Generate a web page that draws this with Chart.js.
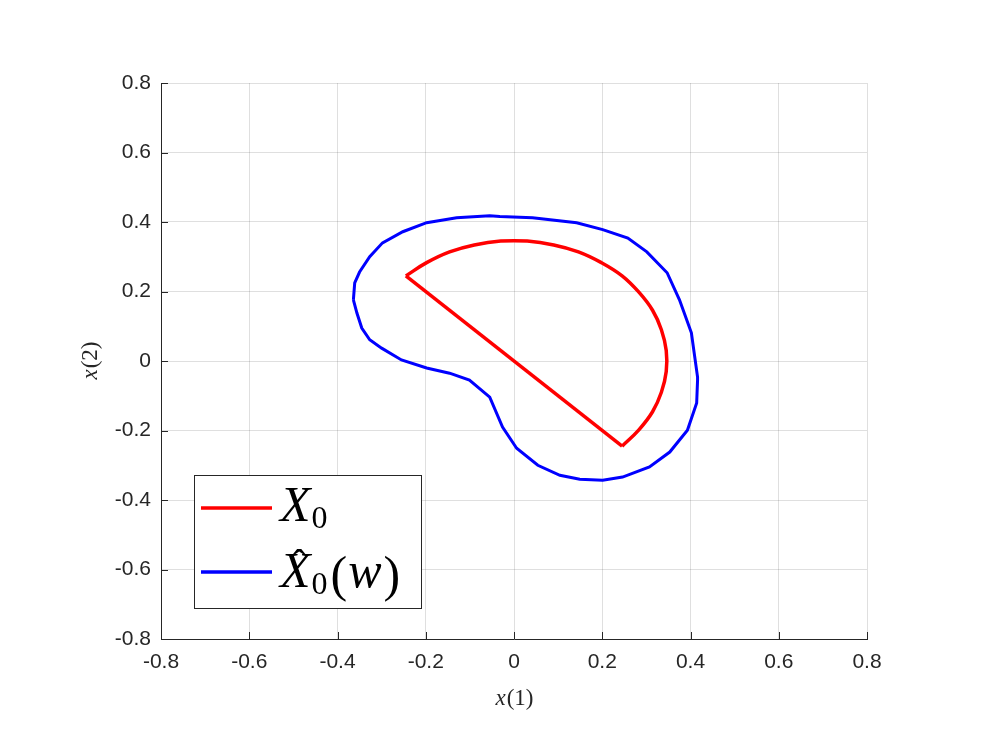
<!DOCTYPE html>
<html>
<head>
<meta charset="utf-8">
<script src="https://cdn.jsdelivr.net/npm/chart.js@4"></script>
<style>
  html, body { margin: 0; padding: 0; background: #fff; }
</style>
</head>
<body>
<canvas id="chart" width="997" height="747"></canvas>
<script>
// axis ticks (same on both axes)
const tickValues = [-0.8, -0.6, -0.4, -0.2, 0, 0.2, 0.4, 0.6, 0.8];
const tickLabels = ["-0.8", "-0.6", "-0.4", "-0.2", "0", "0.2", "0.4", "0.6", "0.8"];

// X_0 : half disc, arc part
const arcX = [-0.245, -0.198, -0.146, -0.090, -0.030, 0.030, 0.090, 0.146, 0.198, 0.245,
  0.283, 0.314, 0.334, 0.345, 0.345, 0.334, 0.314, 0.283, 0.245];
const arcY = [0.245, 0.283, 0.314, 0.334, 0.345, 0.345, 0.334, 0.314, 0.283, 0.245,
  0.198, 0.146, 0.090, 0.030, -0.030, -0.090, -0.146, -0.198, -0.245];
// X_0 : straight diameter
const diamX = [0.245, -0.245];
const diamY = [-0.245, 0.245];

// X_0 hat (w) : outer polygon
const hatX = [-0.364, -0.361, -0.350, -0.327, -0.298, -0.252, -0.198, -0.130, -0.055, -0.032,
  0.042, 0.142, 0.201, 0.258, 0.301, 0.347, 0.375, 0.402, 0.416, 0.416,
  0.414, 0.393, 0.353, 0.307, 0.246, 0.201, 0.149, 0.104, 0.054, 0.006,
  -0.026, -0.055, -0.101, -0.146, -0.198, -0.255, -0.300, -0.327, -0.345, -0.356, -0.364];
const hatY = [0.176, 0.225, 0.256, 0.300, 0.340, 0.372, 0.398, 0.412, 0.418, 0.416,
  0.412, 0.398, 0.378, 0.354, 0.314, 0.254, 0.176, 0.081, -0.046, -0.055,
  -0.121, -0.199, -0.262, -0.305, -0.334, -0.343, -0.340, -0.329, -0.300, -0.251,
  -0.190, -0.104, -0.055, -0.035, -0.020, 0.003, 0.037, 0.061, 0.095, 0.138, 0.176];

const toPts = (xs, ys) => xs.map((x, i) => ({ x: x, y: ys[i] }));

const axisColor = "#262626";
const serif = "'Liberation Serif', 'DejaVu Serif', serif";

// draws inward ticks, axis labels and the legend box
const extras = {
  id: "extras",
  afterDraw(chart) {
    const ctx = chart.ctx;
    const xs = chart.scales.x, ys = chart.scales.y;
    const area = chart.chartArea;
    ctx.save();
    ctx.strokeStyle = axisColor;
    ctx.lineWidth = 1;
    tickValues.forEach((v) => {
      const px = Math.round(xs.getPixelForValue(v)) + 0.5;
      const py = Math.round(ys.getPixelForValue(v)) + 0.5;
      ctx.beginPath();
      ctx.moveTo(px, area.bottom);
      ctx.lineTo(px, area.bottom - 7);
      ctx.moveTo(area.left, py);
      ctx.lineTo(area.left + 7, py);
      ctx.stroke();
    });

    // axis labels x(1), x(2)
    ctx.fillStyle = axisColor;
    ctx.textBaseline = "alphabetic";
    const drawLabel = (cx, cy, num) => {
      ctx.font = "italic 23px " + serif;
      const w1 = ctx.measureText("x").width;
      ctx.font = "23px " + serif;
      const w2 = ctx.measureText("(" + num + ")").width;
      let x = cx - (w1 + w2) / 2;
      ctx.font = "italic 23px " + serif;
      ctx.fillText("x", x, cy);
      ctx.font = "23px " + serif;
      ctx.fillText("(" + num + ")", x + w1 + 1, cy);
    };
    drawLabel((area.left + area.right) / 2, 705, "1");
    ctx.save();
    ctx.translate(97, (area.top + area.bottom) / 2);
    ctx.rotate(-Math.PI / 2);
    drawLabel(0, 0, "2");
    ctx.restore();

    // legend
    const lx = 194, ly = 475, lw = 227, lh = 133;
    ctx.fillStyle = "#fff";
    ctx.fillRect(lx, ly, lw, lh);
    ctx.strokeStyle = axisColor;
    ctx.strokeRect(lx + 0.5, ly + 0.5, lw, lh);
    const rows = [
      { color: "#ff0000", y: 508, base: 521, hat: false },
      { color: "#0000ff", y: 572, base: 587, hat: true }
    ];
    rows.forEach((r) => {
      ctx.strokeStyle = r.color;
      ctx.lineWidth = 3.5;
      ctx.beginPath();
      ctx.moveTo(201, r.y);
      ctx.lineTo(272, r.y);
      ctx.stroke();
      ctx.fillStyle = "#000";
      let x = 280;
      ctx.font = "italic 50px " + serif;
      ctx.fillText("X", x, r.base);
      const wX = ctx.measureText("X").width;
      if (r.hat) {
        ctx.font = "40px " + serif;
        ctx.textAlign = "center";
        ctx.fillText("\u02C6", x + wX / 2 + 4, r.base - 10);
        ctx.textAlign = "left";
      }
      x += wX + 1;
      ctx.font = "32px " + serif;
      ctx.fillText("0", x, r.base + 7);
      x += ctx.measureText("0").width + 3;
      if (r.hat) {
        ctx.font = "50px " + serif;
        ctx.fillText("(", x, r.base + 4);
        x += ctx.measureText("(").width + 1;
        ctx.font = "italic 50px " + serif;
        ctx.fillText("w", x, r.base);
        x += ctx.measureText("w").width + 2;
        ctx.font = "50px " + serif;
        ctx.fillText(")", x, r.base + 4);
      }
    });
    ctx.restore();
  }
};

const axisOptions = (pad) => ({
  type: "linear",
  min: -0.8,
  max: 0.8,
  afterBuildTicks: (scale) => {
    scale.ticks = tickValues.map((v) => ({ value: v }));
  },
  ticks: {
    padding: pad,
    color: axisColor,
    font: { family: "'Liberation Sans', Arial, sans-serif", size: 21 },
    callback: (value, index) => tickLabels[index]
  },
  grid: {
    color: "rgba(38,38,38,0.15)",
    drawTicks: false
  },
  border: { display: true, color: axisColor, width: 1 }
});

const xAxis = axisOptions(11);
xAxis.afterFit = (scale) => { scale.height = 108; };
const yAxis = axisOptions(10);
yAxis.afterFit = (scale) => { scale.width = 161; };

new Chart(document.getElementById("chart"), {
  type: "scatter",
  data: {
    datasets: [
      {
        label: "X0",
        data: toPts(arcX, arcY),
        showLine: true,
        borderColor: "#ff0000",
        borderWidth: 3.5,
        pointRadius: 0,
        tension: 0.4
      },
      {
        label: "X0 diameter",
        data: toPts(diamX, diamY),
        showLine: true,
        borderColor: "#ff0000",
        borderWidth: 3.5,
        pointRadius: 0,
        tension: 0
      },
      {
        label: "X0hat(w)",
        data: toPts(hatX, hatY),
        showLine: true,
        borderColor: "#0000ff",
        borderWidth: 3,
        pointRadius: 0,
        tension: 0
      }
    ]
  },
  options: {
    responsive: false,
    animation: false,
    layout: { padding: { left: 0, top: 83, right: 130, bottom: 0 } },
    plugins: {
      legend: { display: false },
      tooltip: { enabled: false }
    },
    scales: { x: xAxis, y: yAxis }
  },
  plugins: [extras]
});
</script>
</body>
</html>
